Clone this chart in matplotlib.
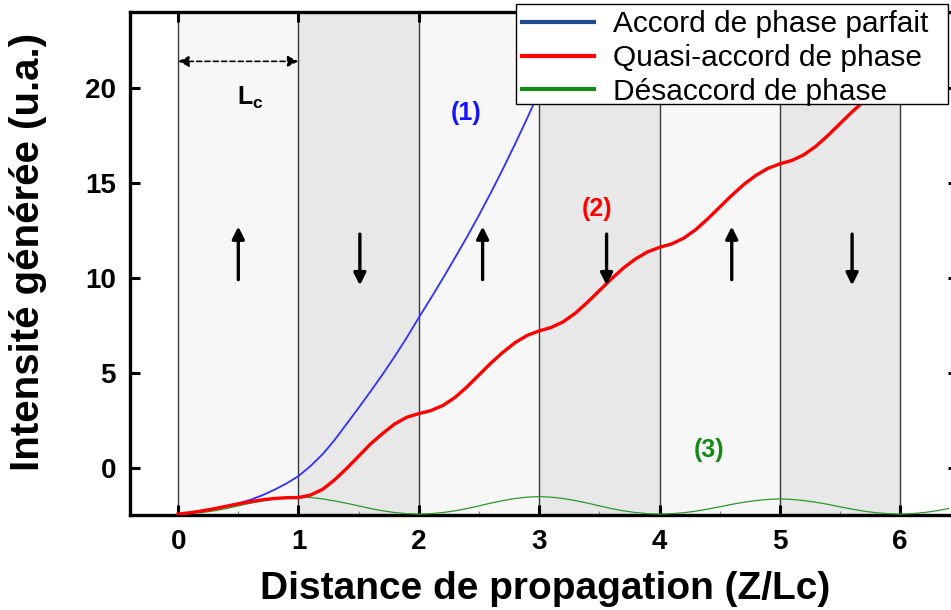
import numpy as np
import matplotlib
matplotlib.use("Agg")
import matplotlib.pyplot as plt
from matplotlib.lines import Line2D
from matplotlib.patches import Rectangle

plt.rcParams['font.family'] = ['Liberation Sans', 'DejaVu Sans']
plt.rcParams['mathtext.fontset'] = 'custom'
plt.rcParams['mathtext.bf'] = 'Liberation Sans:bold'
plt.rcParams['mathtext.rm'] = 'Liberation Sans:bold'

# ---------------- data ----------------
x_blue = [0.0, 0.1, 0.2, 0.3, 0.4, 0.5, 0.6, 0.7, 0.8, 0.9, 1.0,
          1.1, 1.2, 1.3, 1.4, 1.5, 1.6, 1.7, 1.8, 1.9, 2.0,
          2.1, 2.2, 2.3, 2.4, 2.5, 2.6, 2.7, 2.8, 2.9, 3.0]
y_blue = [-2.45, -2.38, -2.28, -2.17, -2.04, -1.89, -1.70, -1.46, -1.17, -0.84, -0.45,
          0.08, 0.70, 1.45, 2.30, 3.15, 4.02, 4.92, 5.86, 6.85, 7.90,
          8.92, 9.97, 11.05, 12.15, 13.30, 14.50, 15.75, 17.05, 18.40, 19.80]

x_red = [round(0.1 * i, 1) for i in range(61)]
y_red = [-2.45, -2.38, -2.28, -2.17, -2.04, -1.91, -1.80, -1.70, -1.63, -1.59, -1.58,
         -1.45, -1.15, -0.65, -0.05, 0.60, 1.25, 1.80, 2.30, 2.65, 2.84,
         3.00, 3.27, 3.69, 4.25, 4.88, 5.51, 6.08, 6.58, 6.96, 7.20,
         7.38, 7.68, 8.13, 8.70, 9.32, 9.94, 10.51, 10.99, 11.36, 11.60,
         11.78, 12.08, 12.53, 13.10, 13.72, 14.34, 14.91, 15.39, 15.76, 16.00,
         16.18, 16.48, 16.93, 17.50, 18.12, 18.74, 19.31, 19.79, 20.16, 20.40]

x_green = [round(0.1 * i, 1) for i in range(65)]
y_green = [-2.45, -2.43, -2.37, -2.28, -2.16, -2.02, -1.88, -1.76, -1.65, -1.58, -1.55,
           -1.58, -1.65, -1.76, -1.88, -2.02, -2.16, -2.28, -2.37, -2.43, -2.45,
           -2.43, -2.37, -2.28, -2.16, -2.02, -1.87, -1.74, -1.63, -1.56, -1.53,
           -1.56, -1.63, -1.74, -1.87, -2.02, -2.16, -2.28, -2.37, -2.43, -2.45,
           -2.43, -2.38, -2.30, -2.19, -2.07, -1.94, -1.83, -1.74, -1.68, -1.65,
           -1.68, -1.74, -1.83, -1.94, -2.07, -2.19, -2.30, -2.38, -2.43, -2.45,
           -2.43, -2.37, -2.28, -2.16]

domain_edges = [0, 1, 2, 3, 4, 5, 6]
domain_colors = ['#f7f7f7', '#e8e8e8', '#f7f7f7', '#e8e8e8', '#f7f7f7', '#e8e8e8']
arrow_x = [0.5, 1.51, 2.53, 3.56, 4.6, 5.6]
arrow_dir = ['up', 'down', 'up', 'down', 'up', 'down']

legend_labels = ['Accord de phase parfait', 'Quasi-accord de phase', 'Désaccord de phase']
legend_colors = ['#1f4a8c', '#ff0000', '#138a13']

x_ticks = [0, 1, 2, 3, 4, 5, 6]
y_ticks = [0, 5, 10, 15, 20]

# ---------------- figure ----------------
W, H = 951, 610
fig = plt.figure(figsize=(W / 100, H / 100), dpi=100)
left_px, right_px, top_px, bot_px = 130, 958, 12, 515
ax = fig.add_axes([left_px / W, 1 - bot_px / H, (right_px - left_px) / W, (bot_px - top_px) / H])
ax.set_xlim(-0.4, 6.48)
ax.set_ylim(-2.5, 24)

for i in range(len(domain_colors)):
    ax.axvspan(domain_edges[i], domain_edges[i + 1], color=domain_colors[i], zorder=0, lw=0)
for xe in domain_edges:
    ax.axvline(xe, color='#3a3a3a', lw=1.0, zorder=1)

ax.plot(x_green, y_green, color='#2a9a2a', lw=0.9, zorder=3)
ax.plot(x_blue, y_blue, color='#3030ff', lw=1.3, zorder=3, solid_joinstyle='round')
ax.plot(x_red, y_red, color='#ff0000', lw=2.4, zorder=4, solid_joinstyle='round')

# polarization arrows
for xa, d in zip(arrow_x, arrow_dir):
    if d == 'up':
        p0, p1 = (xa, 9.9), (xa, 12.7)
    else:
        p0, p1 = (xa, 12.3), (xa, 9.6)
    ax.annotate('', xy=p1, xytext=p0,
                arrowprops=dict(arrowstyle='-|>', color='black', lw=2.4,
                                mutation_scale=18, shrinkA=0, shrinkB=0),
                zorder=5)

# Lc double arrow
ax.annotate('', xy=(1, 21.4), xytext=(0, 21.4),
            arrowprops=dict(arrowstyle='<|-|>', color='black', lw=1.2, ls=(0, (3, 2)),
                            mutation_scale=16, shrinkA=0, shrinkB=0), zorder=5)
ax.text(0.6, 19.5, r'$\mathbf{L_c}$', fontsize=18, ha='center', va='center')

ax.text(2.39, 18.7, '(1)', color='#1414ff', fontsize=18, fontweight='bold', ha='center', va='center')
ax.text(3.48, 13.6, '(2)', color='#ff0000', fontsize=18, fontweight='bold', ha='center', va='center')
ax.text(4.41, 0.9, '(3)', color='#138a13', fontsize=18, fontweight='bold', ha='center', va='center')

# spines & ticks
for s in ax.spines.values():
    s.set_linewidth(2.4)
ax.set_xticks(x_ticks)
ax.set_yticks(y_ticks)
ax.set_xticks([0.5 * i for i in range(0, 13) if i % 2 == 1], minor=True)
ax.tick_params(axis='both', which='major', direction='in', length=7, width=2.2,
               top=True, right=True, labelsize=20, pad=10)
ax.tick_params(axis='x', which='minor', direction='in', length=3, width=0.8,
               color='#777777', top=False, bottom=True)
for lab in ax.get_xticklabels() + ax.get_yticklabels():
    lab.set_fontweight('bold')

ax.set_xlabel('Distance de propagation (Z/Lc)', fontsize=28, fontweight='bold', va='center')
ax.xaxis.set_label_coords((545 - left_px) / (right_px - left_px), (bot_px - 589) / (bot_px - top_px))
ax.set_ylabel('Intensité générée (u.a.)', fontsize=29, fontweight='bold', va='center', ha='center')
ax.yaxis.set_label_coords((28 - left_px) / (right_px - left_px), (bot_px - 252) / (bot_px - top_px))

# legend box (frame) and contents
box = Rectangle((516 / W, 1 - 104 / H), (948 - 516) / W, 100 / H, transform=fig.transFigure,
                facecolor='white', edgecolor='black', lw=1.0, zorder=9, clip_on=False)
ax.add_patch(box)
handles = [Line2D([], [], color=c, lw=3) for c in legend_colors]
leg = ax.legend(handles, legend_labels, loc='upper left',
                bbox_to_anchor=(522 / W, 1 - 10 / H), bbox_transform=fig.transFigure,
                borderaxespad=0, fontsize=21.5, frameon=False,
                handlelength=2.4, handletextpad=0.65,
                labelspacing=0.2, borderpad=0.0)
leg.set_zorder(10)

fig.savefig('out.png', dpi=100)
